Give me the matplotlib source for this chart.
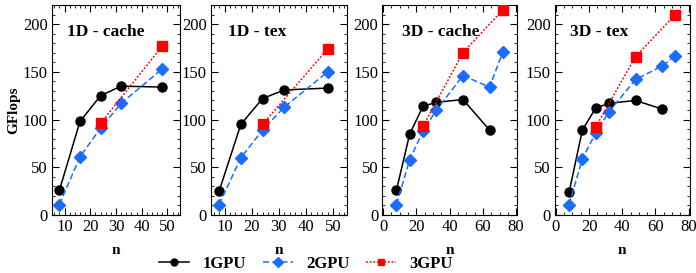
import matplotlib
matplotlib.use("Agg")
import matplotlib.pyplot as plt
from matplotlib.ticker import MultipleLocator
from matplotlib.lines import Line2D

plt.rcParams['font.family'] = ['Liberation Serif', 'DejaVu Serif']

titles = ["1D - cache", "1D - tex", "3D - cache", "3D - tex"]

n_1gpu_1d = [8, 16, 24, 32, 48]
n_2gpu_1d = [8, 16, 24, 32, 48]
n_3gpu_1d = [24, 48]
n_1gpu_3d = [8, 16, 24, 32, 48, 64]
n_2gpu_3d = [8, 16, 24, 32, 48, 64, 72]
n_3gpu_3d = [24, 48, 72]

cache1d_1gpu = [26, 98, 125, 135, 134]
cache1d_2gpu = [11, 61, 91, 117, 153]
cache1d_3gpu = [96, 177]

tex1d_1gpu = [25, 95, 122, 131, 133]
tex1d_2gpu = [11, 60, 89, 113, 150]
tex1d_3gpu = [95, 174]

cache3d_1gpu = [26, 85, 114, 118, 121, 89]
cache3d_2gpu = [11, 58, 88, 110, 146, 134, 171]
cache3d_3gpu = [93, 170, 215]

tex3d_1gpu = [24, 89, 112, 117, 120, 111]
tex3d_2gpu = [11, 59, 86, 108, 142, 156, 167]
tex3d_3gpu = [92, 166, 210]

panels = [
    (n_1gpu_1d, cache1d_1gpu, n_2gpu_1d, cache1d_2gpu, n_3gpu_1d, cache1d_3gpu),
    (n_1gpu_1d, tex1d_1gpu, n_2gpu_1d, tex1d_2gpu, n_3gpu_1d, tex1d_3gpu),
    (n_1gpu_3d, cache3d_1gpu, n_2gpu_3d, cache3d_2gpu, n_3gpu_3d, cache3d_3gpu),
    (n_1gpu_3d, tex3d_1gpu, n_2gpu_3d, tex3d_2gpu, n_3gpu_3d, tex3d_3gpu),
]

W, H = 696, 273
fig = plt.figure(figsize=(W / 100, H / 100), dpi=100)

boxes = [(51.7, 180.3), (211, 346.7), (382.3, 517), (555, 689.5)]
top_px, bot_px = 5, 215
title_x = [0.117, 0.127, 0.148, 0.11]

blue = '#1a6dff'
red = '#ff0000'

for i, (box, data) in enumerate(zip(boxes, panels)):
    l, r = box
    ax = fig.add_axes([l / W, 1 - bot_px / H, (r - l) / W, (bot_px - top_px) / H])
    x1, y1, x2, y2, x3, y3 = data
    ax.plot(x1, y1, color='black', lw=1.1, marker='o', ms=6.5, zorder=3)
    ax.plot(x2, y2, color=blue, lw=1.1, ls=(0, (4, 2)), marker='D', ms=6.5, zorder=3)
    ax.plot(x3, y3, color=red, lw=1.1, ls=(0, (1.2, 1.2)), marker='s', ms=6.5, zorder=3)
    ax.set_ylim(0, 220)
    if i < 2:
        ax.set_xlim(5, 55)
        ax.xaxis.set_major_locator(MultipleLocator(10))
        ax.xaxis.set_minor_locator(MultipleLocator(2))
    else:
        ax.set_xlim(-0.5, 80.5)
        ax.xaxis.set_major_locator(MultipleLocator(20))
        ax.xaxis.set_minor_locator(MultipleLocator(5))
    ax.yaxis.set_major_locator(MultipleLocator(50))
    ax.yaxis.set_minor_locator(MultipleLocator(10))
    ax.tick_params(which='both', direction='in', top=True, right=True, labelsize=12, pad=3)
    ax.tick_params(which='major', length=5, width=0.8)
    ax.tick_params(which='minor', length=2.5, width=0.6)
    for s in ax.spines.values():
        s.set_linewidth(0.8)
    ax.text(title_x[i], 0.87, titles[i], transform=ax.transAxes, fontsize=12.5,
            fontweight='bold', ha='left', va='center')
    ax.set_xlabel('n', fontsize=11, fontweight='bold', labelpad=6)
    if i == 0:
        ax.set_ylabel('GFlops', fontsize=11, fontweight='bold', labelpad=2)

handles = [
    Line2D([], [], color='black', lw=1.1, marker='o', ms=5),
    Line2D([], [], color=blue, lw=1.1, ls=(0, (4, 2)), marker='D', ms=5),
    Line2D([], [], color=red, lw=1.1, ls=(0, (1.2, 1.2)), marker='s', ms=5),
]
leg = fig.legend(handles, ['1GPU', '2GPU', '3GPU'], loc='center', ncol=3,
                 bbox_to_anchor=(306 / W, 1 - 264 / H), frameon=False,
                 prop={'weight': 'bold', 'size': 12}, handlelength=1.8,
                 handletextpad=0.8, columnspacing=1.0, borderpad=0)

fig.savefig('out.png', dpi=100)
